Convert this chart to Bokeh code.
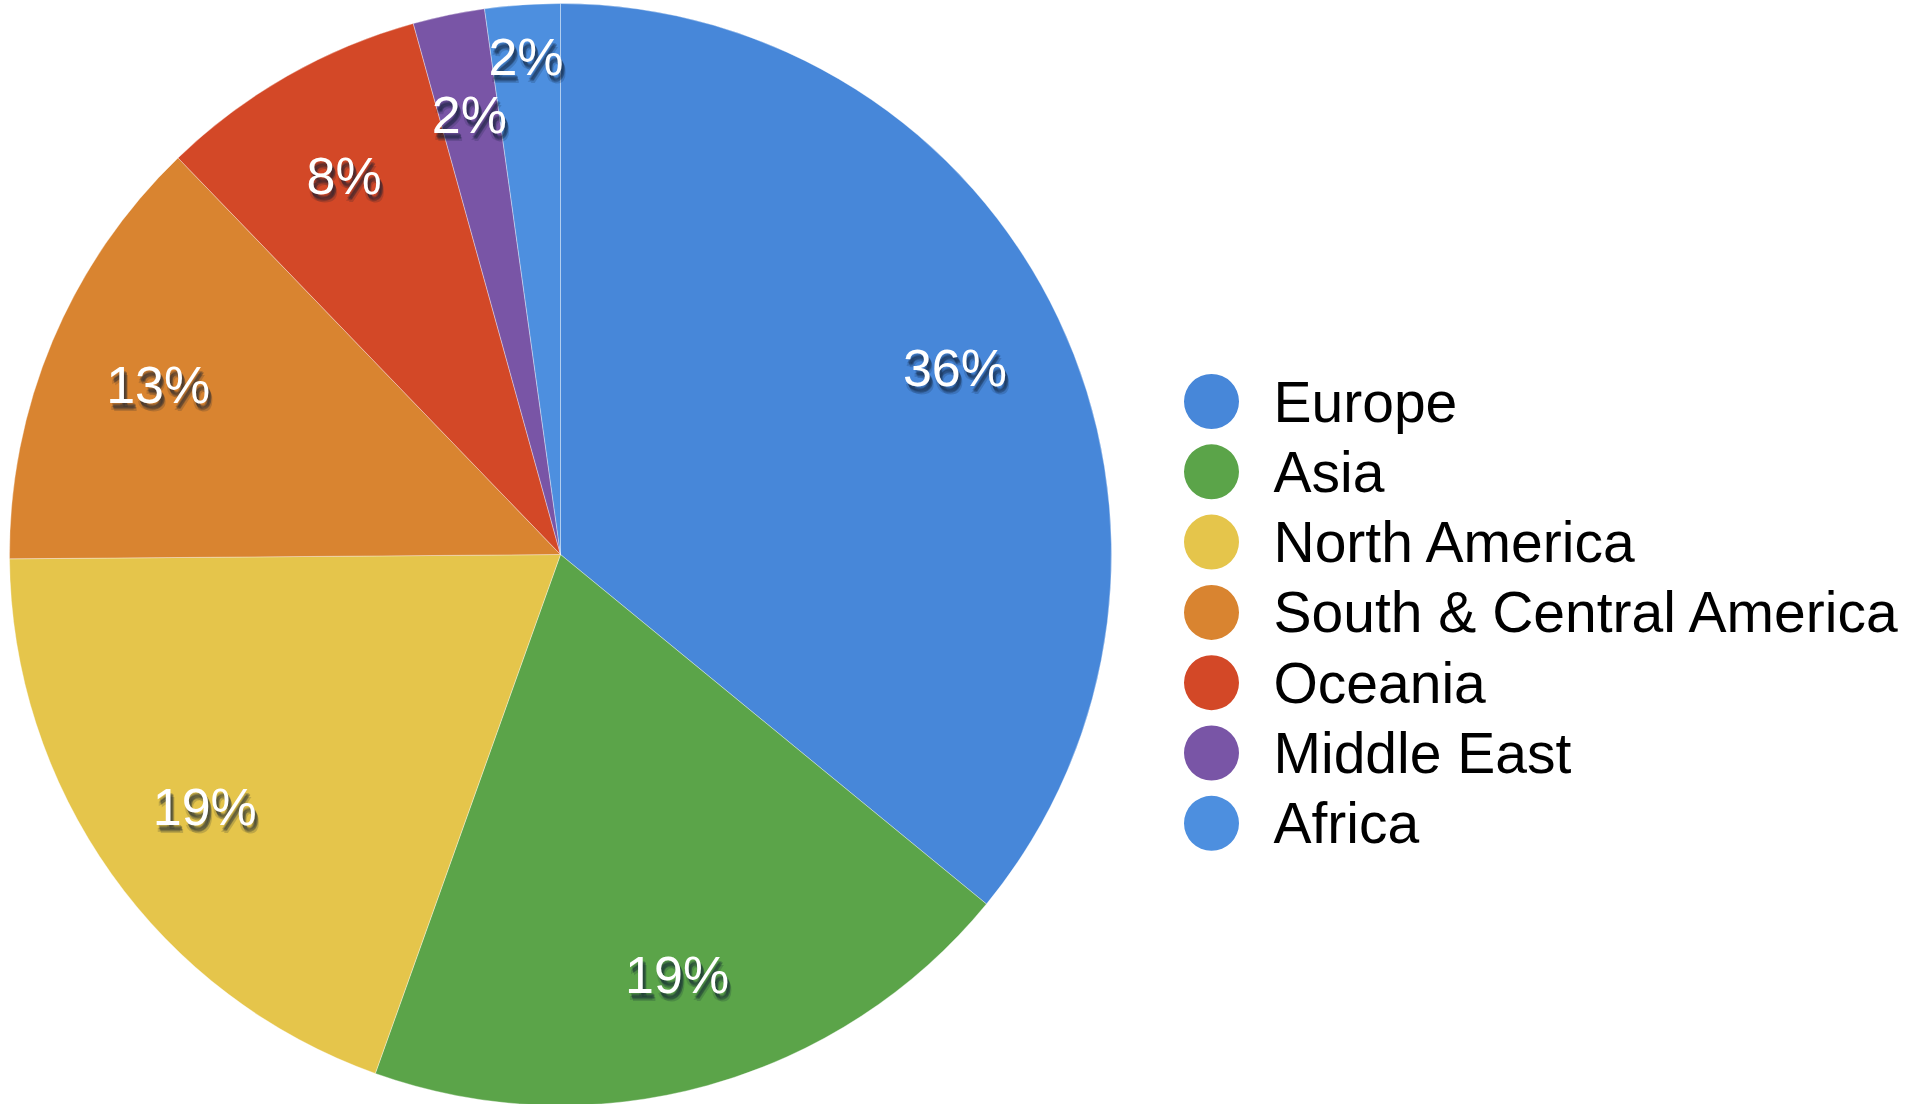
import math
from bokeh.plotting import figure
from bokeh.models import Range1d, ColumnDataSource
from bokeh.core.properties import value
from bokeh.embed import file_html
from bokeh.resources import INLINE

# ---- data ----
regions = ["Europe", "Asia", "North America", "South & Central America",
           "Oceania", "Middle East", "Africa"]
shares = [35.9, 19.5, 19.4, 12.9, 7.9, 2.1, 2.2]
pct_labels = ["36%", "19%", "19%", "13%", "8%", "2%", "2%"]
colors = ["#4787d9", "#5ba449", "#e5c54b", "#d98430", "#d34827", "#7955a6", "#4d8fdf"]

# ---- layout / style ----
W, H = 1903, 1104
CX, CY, R = 560, 1120 - 554, 551
label_r = [0.792, 0.792, 0.792, 0.792, 0.792, 0.815, 0.905]
FONT = value("Liberation Sans")

p = figure(width=W, height=H, output_backend="svg", toolbar_location=None,
           x_range=Range1d(0, W), y_range=Range1d(1120 - H, 1120),
           min_border=0, background_fill_color="white", border_fill_color="white")
p.axis.visible = False
p.grid.visible = False
p.outline_line_color = None

total = sum(shares)
starts, ends, lx, ly = [], [], [], []
cum = 0.0
for i, v in enumerate(shares):
    a0 = cum / total * 2 * math.pi
    cum += v
    a1 = cum / total * 2 * math.pi
    # clockwise from 12 o'clock, converted to Bokeh's anticlockwise-from-x convention
    starts.append(math.pi / 2 - a1)
    ends.append(math.pi / 2 - a0)
    mid = (a0 + a1) / 2
    lx.append(CX + label_r[i] * R * math.sin(mid))
    ly.append(CY + label_r[i] * R * math.cos(mid))

src = ColumnDataSource(dict(start=starts, end=ends, color=colors, region=regions,
                            lx=lx, ly=ly, lab=pct_labels))

p.wedge(x=CX, y=CY, radius=R, start_angle="start", end_angle="end",
        fill_color="color", line_color="white", line_alpha=0.35, line_width=1,
        source=src)

# label shadows (soft blur imitation)
for dx, dy, a in [(2, 4, 0.22), (3, 6, 0.22), (4, 8, 0.18), (3, 5, 0.25), (1, 7, 0.15)]:
    p.text(x="lx", y="ly", text="lab", source=src, text_font=FONT,
           text_font_size="52px", text_color="#0d1a30", text_alpha=a,
           text_align="center", text_baseline="middle",
           x_offset=dx, y_offset=dy)
p.text(x="lx", y="ly", text="lab", source=src, text_font=FONT,
       text_font_size="52px", text_color="white",
       text_align="center", text_baseline="middle")

# legend
LEG_X, LEG_TOP, LEG_STEP, TXT_X = 1211, 1120 - 401, 70.3, 1273
leg_y = [LEG_TOP - i * LEG_STEP for i in range(len(regions))]
leg_src = ColumnDataSource(dict(y=leg_y, color=colors, region=regions,
                                x=[LEG_X] * len(regions), tx=[TXT_X] * len(regions)))
p.scatter(x="x", y="y", size=55, marker="circle", fill_color="color",
          line_color=None, source=leg_src)
p.text(x="tx", y="y", text="region", source=leg_src, text_font=FONT,
       text_font_size="57px", text_color="black", text_align="left",
       text_baseline="middle")

open("out.html", "w").write(file_html(p, INLINE))
